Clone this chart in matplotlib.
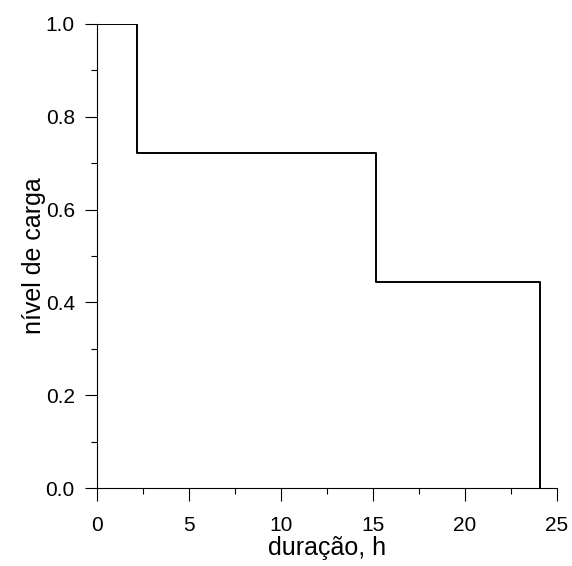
import matplotlib
matplotlib.use("Agg")
import matplotlib.pyplot as plt
from matplotlib.ticker import MultipleLocator

plt.rcParams['font.family'] = ['Liberation Sans', 'DejaVu Sans']

# step boundaries (h) and load levels
duracao = [0, 2.15, 15.15, 24.1]
nivel = [1.0, 0.723, 0.445, 0.0]

fig = plt.figure(figsize=(5.72, 5.66), dpi=100)
ax = fig.add_axes([0.1696, 0.1378, 0.8042, 0.8198])
ax.plot(duracao, nivel, drawstyle='steps-post', color='black', lw=1.4)

ax.set_xlim(0, 25)
ax.set_ylim(0, 1.0)
ax.xaxis.set_major_locator(MultipleLocator(5))
ax.xaxis.set_minor_locator(MultipleLocator(2.5))
ax.yaxis.set_major_locator(MultipleLocator(0.2))
ax.yaxis.set_minor_locator(MultipleLocator(0.1))
ax.set_yticklabels([f"{v:.1f}" for v in ax.get_yticks()])
ax.set_xticklabels([f"{int(v)}" for v in ax.get_xticks()])
for s in ['top', 'right']:
    ax.spines[s].set_visible(False)
for s in ['left', 'bottom']:
    ax.spines[s].set_linewidth(0.8)
ax.tick_params(which='major', length=9, width=0.8, labelsize=15, direction='out')
ax.tick_params(axis='x', which='major', pad=11)
ax.tick_params(axis='y', which='major', pad=7)
ax.tick_params(which='minor', length=4, width=0.8, direction='out')
ax.set_xlabel('duração, h', fontsize=18, labelpad=1)
ax.set_ylabel('nível de carga', fontsize=18, labelpad=0)

fig.savefig('out.png', dpi=100)
